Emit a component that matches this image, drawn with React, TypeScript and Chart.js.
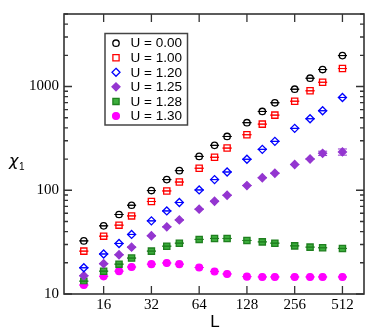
import React, { useEffect, useRef } from "react";
import { Chart, registerables } from "chart.js";

Chart.register(...registerables);

// ---- data ----
const sizesL = [12, 16, 20, 24, 32, 40, 48, 64, 80, 96, 128, 160, 192, 256, 320, 384, 512];
const seriesLabels = ["U = 0.00", "U = 1.00", "U = 1.20", "U = 1.25", "U = 1.28", "U = 1.30"];
const chiU000 = [32.5, 45.4, 58.4, 71.7, 99.3, 126.7, 154.6, 212, 271, 330, 448, 575, 697, 942, 1202, 1457, 1987];
const chiU100 = [25.9, 36.1, 46.1, 56.6, 77.9, 98.5, 120, 163, 208, 255, 343, 434, 530, 722, 909, 1099, 1490];
const chiU120 = [17.9, 24.3, 30.7, 37.5, 50.7, 63.2, 76.2, 100.7, 126.7, 150, 199, 248, 296, 395, 489, 584, 784];
const chiU125 = [15.0, 19.6, 23.9, 28.3, 36.4, 44.4, 51.8, 65.7, 78.4, 89.5, 111, 132, 146, 177, 200, 227, 234];
const chiU128 = [13.3, 16.6, 19.4, 22.2, 25.9, 28.9, 30.9, 33.6, 34.3, 34.3, 32.8, 31.8, 30.9, 29.1, 28.3, 27.9, 27.5];
const chiU130 = [12.2, 14.8, 16.6, 18.2, 19.4, 19.9, 19.4, 18.0, 16.5, 15.6, 14.7, 14.6, 14.6, 14.6, 14.6, 14.6, 14.6];
const errU125 = [0, 0, 0, 0, 0, 0, 0, 0, 0, 0, 0, 0, 0, 0, 0, 11, 16];
const xTickValues = [16, 32, 64, 128, 256, 512];
const yTickValues = [10, 100, 1000];

type Marker = {
  style: string;
  radius: number;
  stroke: string;
  fill: string;
};

const markers: Marker[] = [
  { style: "circle", radius: 3.2, stroke: "#000000", fill: "rgba(0,0,0,0)" },
  { style: "rect", radius: 4.4, stroke: "#ff0000", fill: "rgba(0,0,0,0)" },
  { style: "rectRot", radius: 4.0, stroke: "#0000ff", fill: "rgba(0,0,0,0)" },
  { style: "rectRot", radius: 4.0, stroke: "#9436d0", fill: "#9436d0" },
  { style: "rect", radius: 4.4, stroke: "#1f7f1f", fill: "#3cae3c" },
  { style: "circle", radius: 3.4, stroke: "#ff00ff", fill: "#ff00ff" },
];

const allSeries = [chiU000, chiU100, chiU120, chiU125, chiU128, chiU130];
const allErrors = [null, null, null, errU125, null, null];

function drawMarker(ctx: CanvasRenderingContext2D, m: Marker, x: number, y: number) {
  ctx.save();
  ctx.beginPath();
  if (m.style === "circle") {
    ctx.arc(x, y, m.radius, 0, Math.PI * 2);
  } else if (m.style === "rect") {
    const s = Math.SQRT1_2 * m.radius;
    ctx.rect(x - s, y - s, 2 * s, 2 * s);
  } else {
    const r = m.radius;
    ctx.moveTo(x, y - r);
    ctx.lineTo(x + r, y);
    ctx.lineTo(x, y + r);
    ctx.lineTo(x - r, y);
    ctx.closePath();
  }
  ctx.fillStyle = m.fill;
  ctx.fill();
  ctx.lineWidth = 1.3;
  ctx.strokeStyle = m.stroke;
  ctx.stroke();
  ctx.restore();
}

const errorBarPlugin = {
  id: "errorBars",
  afterDatasetsDraw(chart: any) {
    const ctx = chart.ctx as CanvasRenderingContext2D;
    const xs = chart.scales.x;
    const ys = chart.scales.y;
    ctx.save();
    allSeries.forEach((vals, di) => {
      const errs = allErrors[di];
      ctx.strokeStyle = markers[di].stroke;
      ctx.lineWidth = 1;
      vals.forEach((v, i) => {
        const e = errs ? errs[i] : 0;
        const px = xs.getPixelForValue(sizesL[i]);
        const yTop = ys.getPixelForValue(v + e);
        const yBot = ys.getPixelForValue(v - e);
        const hw = 4.5;
        ctx.beginPath();
        ctx.moveTo(px, yTop);
        ctx.lineTo(px, yBot);
        ctx.moveTo(px - hw, yTop);
        ctx.lineTo(px + hw, yTop);
        ctx.moveTo(px - hw, yBot);
        ctx.lineTo(px + hw, yBot);
        ctx.stroke();
      });
    });
    ctx.restore();
  },
};

const framePlugin = {
  id: "frame",
  afterDraw(chart: any) {
    const ctx = chart.ctx as CanvasRenderingContext2D;
    const { left, right, top, bottom } = chart.chartArea;
    const xs = chart.scales.x;
    const ys = chart.scales.y;
    ctx.save();
    ctx.strokeStyle = "#333333";
    ctx.lineWidth = 1.6;
    ctx.strokeRect(left, top, right - left, bottom - top);
    ctx.lineWidth = 1.3;
    ctx.beginPath();
    // x major ticks, inward, bottom and top
    xTickValues.forEach((v) => {
      const px = xs.getPixelForValue(v);
      ctx.moveTo(px, bottom);
      ctx.lineTo(px, bottom - 8);
      ctx.moveTo(px, top);
      ctx.lineTo(px, top + 8);
    });
    // y ticks
    for (let dec = 10; dec <= 1000; dec *= 10) {
      for (let k = 1; k <= 9; k++) {
        const v = dec * k;
        if (v > 5000) break;
        const py = ys.getPixelForValue(v);
        const len = k === 1 ? 8 : 4;
        ctx.moveTo(left, py);
        ctx.lineTo(left + len, py);
        ctx.moveTo(right, py);
        ctx.lineTo(right - len, py);
      }
    }
    ctx.stroke();

    // legend box
    const bx = 105, by = 33.5, bw = 82.5, bh = 91.5;
    ctx.fillStyle = "#ffffff";
    ctx.fillRect(bx, by, bw, bh);
    ctx.strokeStyle = "#444444";
    ctx.lineWidth = 1.5;
    ctx.strokeRect(bx, by, bw, bh);
    ctx.font = '13.5px "Liberation Sans", Arial, sans-serif';
    ctx.fillStyle = "#000000";
    ctx.textBaseline = "middle";
    ctx.textAlign = "left";
    seriesLabels.forEach((lab, i) => {
      const ry = 43.2 + i * 14.55;
      drawMarker(ctx, markers[i], 116, ry);
      ctx.fillStyle = "#000000";
      ctx.fillText(lab, 130.5, ry + 0.5);
    });

    // axis titles
    ctx.font = '17px "Liberation Sans", Arial, sans-serif';
    ctx.textAlign = "center";
    ctx.fillText("L", 215, 322);
    ctx.font = 'italic 16px "DejaVu Sans", sans-serif';
    ctx.textAlign = "left";
    ctx.fillText("χ", 9, 162);
    ctx.font = '10px "Liberation Sans", Arial, sans-serif';
    ctx.fillText("1", 19, 167);
    ctx.restore();
  },
};

export default function App() {
  const ref = useRef<HTMLCanvasElement | null>(null);
  useEffect(() => {
    document.body.style.margin = "0";
    const canvas = ref.current;
    if (!canvas) return;
    const datasets = allSeries.map((vals, i) => ({
      label: seriesLabels[i],
      data: vals.map((v, j) => ({ x: sizesL[j], y: v })),
      showLine: false,
      pointStyle: markers[i].style,
      pointRadius: markers[i].radius,
      pointBorderWidth: 1.3,
      pointBorderColor: markers[i].stroke,
      pointBackgroundColor: markers[i].fill,
      borderColor: markers[i].stroke,
      backgroundColor: markers[i].fill,
    }));
    const serif = '"Liberation Serif", "Times New Roman", serif';
    const chart = new Chart(canvas, {
      type: "scatter",
      data: { datasets } as any,
      options: {
        animation: false,
        responsive: false,
        devicePixelRatio: 1,
        layout: { padding: { left: 0, top: 14, right: 18, bottom: 0 } },
        plugins: { legend: { display: false }, tooltip: { enabled: false } },
        scales: {
          x: {
            type: "logarithmic",
            min: 9,
            max: 700,
            afterBuildTicks: (s: any) => {
              s.ticks = xTickValues.map((v) => ({ value: v }));
            },
            afterFit: (s: any) => {
              s.height = 42;
            },
            ticks: {
              callback: (v: any) => String(v),
              font: { family: serif, size: 15 },
              color: "#000000",
              padding: 2,
              maxRotation: 0,
              autoSkip: false,
            },
            grid: { display: false, drawTicks: false },
            border: { display: false },
          },
          y: {
            type: "logarithmic",
            min: 10,
            max: 5000,
            afterBuildTicks: (s: any) => {
              s.ticks = yTickValues.map((v) => ({ value: v }));
            },
            afterFit: (s: any) => {
              s.width = 64;
            },
            ticks: {
              callback: (v: any) => String(v),
              font: { family: serif, size: 15 },
              color: "#000000",
              padding: 5,
              autoSkip: false,
            },
            grid: { display: false, drawTicks: false },
            border: { display: false },
          },
        },
      } as any,
      plugins: [errorBarPlugin, framePlugin],
    });
    return () => chart.destroy();
  }, []);
  return (
    <div style={{ position: "absolute", left: 0, top: 0, width: 382, height: 336 }}>
      <canvas ref={ref} width={382} height={336} />
    </div>
  );
}
